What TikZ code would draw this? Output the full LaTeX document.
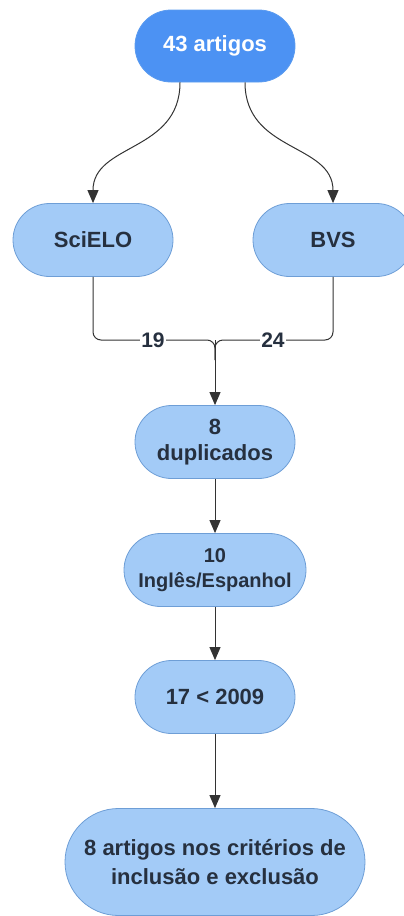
\documentclass[tikz,border=0pt]{standalone}
\usepackage{fontspec}
\setmainfont{Liberation Sans}
\usetikzlibrary{shapes.misc,arrows.meta}
\definecolor{boxfill}{HTML}{A3CBF7}
\definecolor{boxline}{HTML}{6E9ED6}
\definecolor{topfill}{HTML}{4C92F3}
\definecolor{topline}{HTML}{5B9BEF}
\definecolor{txt}{HTML}{26303F}
\definecolor{ln}{HTML}{333333}
\begin{document}
\begin{tikzpicture}[x=1pt,y=-1pt,
  box/.style={rounded rectangle, draw=boxline, fill=boxfill, line width=0.8pt,
    minimum width=160pt, minimum height=73pt, inner sep=0pt, align=center,
    text=txt, font=\bfseries\fontsize{22}{26}\selectfont},
  conn/.style={draw=ln, line width=1pt},
  arr/.style={conn, -{Triangle[width=11pt,length=13pt]}},
  lbl/.style={fill=white, inner sep=1pt, text=txt, font=\bfseries\fontsize{21}{24}\selectfont}]
\useasboundingbox (0,0) rectangle (404,916);
\clip (0,0) rectangle (404,916);
\node[box, fill=topfill, draw=topline, text=white, minimum height=72pt] (top) at (215,46) {43 artigos};
\node[box] (sci) at (93,240) {SciELO};
\node[box] (bvs) at (333,240) {BVS};
\node[box] (dup) at (215,442) {8\\duplicados};
\node[box, minimum width=182pt, font=\bfseries\fontsize{20}{25}\selectfont] (ing) at (215,570) {10\\Inglês/Espanhol};
\node[box] (ano) at (215,697) {17 < 2009};
\node[box, minimum width=300pt, minimum height=107pt, font=\bfseries\fontsize{22}{29}\selectfont] (fin) at (215,862) {8 artigos nos critérios de\\inclusão e exclusão};
\coordinate (tl) at ([xshift=-35pt]top.south);
\coordinate (tr) at ([xshift=30pt]top.south);
\draw[arr] (tl) .. controls ([yshift=-70pt]tl) and ([yshift=60pt]sci.north) .. (sci.north);
\draw[arr] (tr) .. controls ([yshift=-70pt]tr) and ([yshift=60pt]bvs.north) .. (bvs.north);
\coordinate (j) at (215,340);
\draw[conn, rounded corners=8pt] (sci.south) |- (j) -- ([yshift=-20pt]j);
\draw[conn, rounded corners=8pt] (bvs.south) |- (j) -- ([yshift=-20pt]j);
\draw[arr] (j) -- (dup.north);
\node[lbl] (l19) at (153,340) {19};
\node[lbl] (l24) at (273,340) {24};
\draw[arr] (dup.south) -- (ing.north);
\draw[arr] (ing.south) -- (ano.north);
\draw[arr] (ano.south) -- (fin.north);
\end{tikzpicture}
\end{document}
